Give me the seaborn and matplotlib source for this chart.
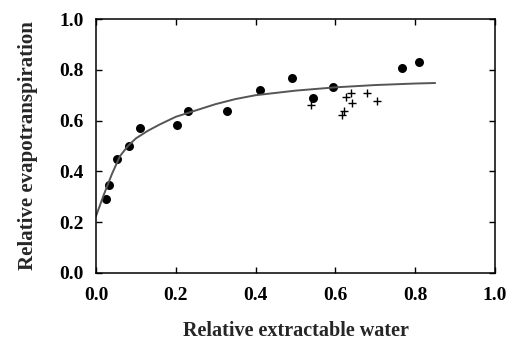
import matplotlib
matplotlib.use("Agg")
import matplotlib.pyplot as plt
import seaborn as sns
import pandas as pd

# Circles (observed)
circle_x = [0.025, 0.033, 0.053, 0.083, 0.110, 0.204, 0.230, 0.328, 0.412, 0.490, 0.545, 0.593, 0.768, 0.810]
circle_y = [0.290, 0.346, 0.448, 0.500, 0.570, 0.581, 0.639, 0.639, 0.720, 0.767, 0.690, 0.731, 0.806, 0.830]

# Plus markers
plus_x = [0.539, 0.627, 0.638, 0.642, 0.616, 0.622, 0.678, 0.704]
plus_y = [0.661, 0.692, 0.707, 0.668, 0.622, 0.638, 0.707, 0.678]

# Fitted curve
curve_x = [0.0, 0.02, 0.04, 0.06, 0.08, 0.10, 0.13, 0.16, 0.20, 0.25, 0.30, 0.35, 0.40, 0.50, 0.60, 0.70, 0.80, 0.85]
curve_y = [0.224, 0.31, 0.39, 0.46, 0.50, 0.53, 0.56, 0.585, 0.615, 0.64, 0.665, 0.685, 0.70, 0.718, 0.731, 0.740, 0.746, 0.748]

x_ticks = [0.0, 0.2, 0.4, 0.6, 0.8, 1.0]
y_ticks = [0.0, 0.2, 0.4, 0.6, 0.8, 1.0]

sns.set_style("white")
plt.rcParams['font.family'] = ['Liberation Serif', 'DejaVu Serif']

fig = plt.figure(figsize=(5.17, 3.45), dpi=100)
ax = fig.add_axes([0.1857, 0.2087, 0.9574 - 0.1857, 0.9449 - 0.2087])

sns.lineplot(x=curve_x, y=curve_y, ax=ax, color="#555555", linewidth=1.4, sort=False)
sns.scatterplot(x=circle_x, y=circle_y, ax=ax, color="black", s=42, marker="o", edgecolor="black", linewidth=0)
sns.scatterplot(x=plus_x, y=plus_y, ax=ax, color="black", s=32, marker="+", linewidth=1.0)

ax.set_xlim(0, 1.0)
ax.set_ylim(0, 1.0)
ax.set_xticks(x_ticks)
ax.set_yticks(y_ticks)
ax.set_xticklabels([f"{t:.1f}" for t in x_ticks], fontweight="bold", fontsize=14)
ax.set_yticklabels([f"{t:.1f}" for t in y_ticks], fontweight="bold", fontsize=14)
ax.tick_params(direction="in", length=4, width=1, top=True, right=True, bottom=True, left=True,
               colors="black")
ax.tick_params(axis="x", pad=10)
ax.tick_params(axis="y", pad=9)
for s in ax.spines.values():
    s.set_color("black")
    s.set_linewidth(1.1)

ax.set_xlabel("Relative extractable water", fontweight="bold", fontsize=14.5, labelpad=12)
ax.set_ylabel("Relative evapotranspiration", fontweight="bold", fontsize=15, labelpad=15)

fig.savefig("out.png", dpi=100)
